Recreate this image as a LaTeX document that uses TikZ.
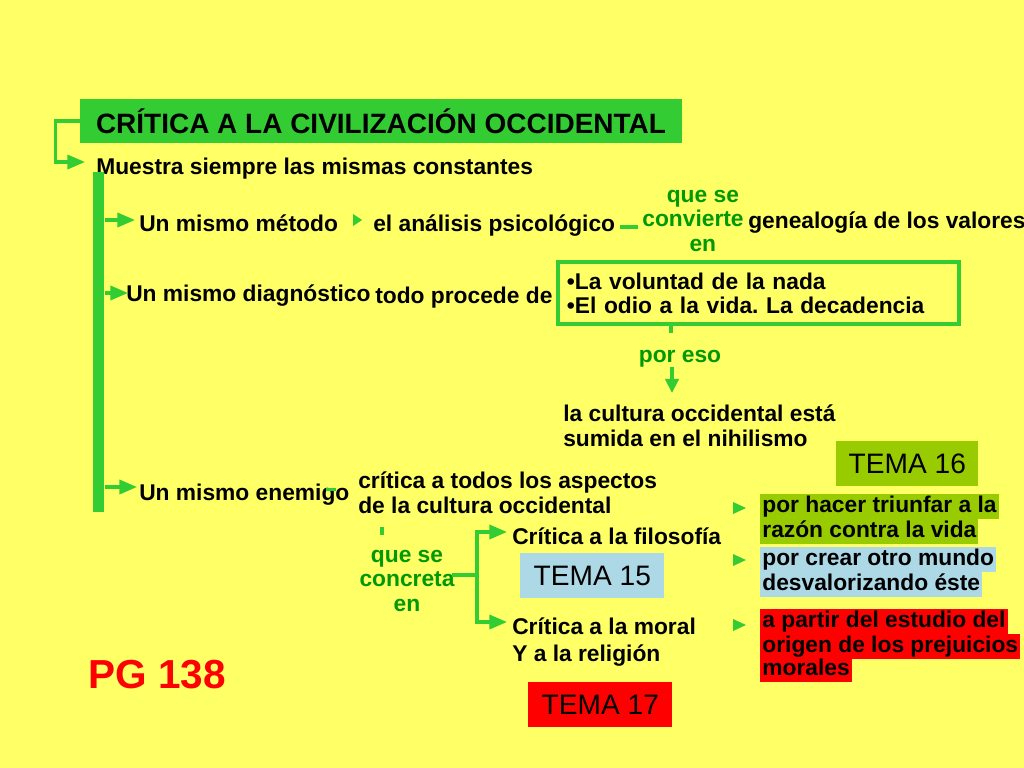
\documentclass[tikz,border=0pt]{standalone}
\usepackage{fontspec}
\setmainfont{Liberation Sans}
\usetikzlibrary{arrows.meta,calc}
\definecolor{bgy}{RGB}{255,255,102}
\definecolor{lgreen}{RGB}{51,204,51}
\definecolor{dkgreen}{RGB}{0,153,0}
\definecolor{olive}{RGB}{153,204,0}
\definecolor{lblue}{RGB}{173,216,230}
\definecolor{tred}{RGB}{255,0,0}
\frenchspacing
\tikzset{
  txt/.style={font=\bfseries\fontsize{16.2}{17.1}\selectfont, inner sep=0pt, anchor=base west, align=left},
  gtxt/.style={txt, text=dkgreen, anchor=base, align=center},
  gline/.style={draw=lgreen, line width=2.3pt},
  garr/.style={gline, -{Triangle[length=12.5pt,width=10pt]}},
  titlebox/.style={fill=lgreen, minimum width=15.05cm, minimum height=1.1cm, inner sep=0pt,
    font=\bfseries\fontsize{19.9}{22}\selectfont},
  barbox/.style={fill=lgreen, minimum width=0.28cm, minimum height=8.5cm, inner sep=0pt, anchor=north west},
  listbox/.style={draw=lgreen, line width=2.8pt, anchor=north west, minimum width=10.025cm, minimum height=1.55cm,
    text width=9.575cm, inner xsep=0.225cm, inner ysep=0pt, align=left, font=\bfseries\fontsize{16.2}{17.1}\selectfont},
  tema/.style={anchor=north west, inner sep=0pt, minimum width=3.6cm, minimum height=1.115cm,
    font=\fontsize{20}{24}\selectfont},
  hl/.style={txt, inner xsep=1.5pt, inner ysep=0pt, text height=12.7pt, text depth=4.8pt},
  pgtxt/.style={font=\bfseries\fontsize{28.8}{32}\selectfont, text=tred, inner sep=0pt, anchor=base west},
  bullet/.style={fill=lgreen}
}
\begin{document}
\begin{tikzpicture}[x=0.025cm,y=-0.025cm]
\fill[bgy] (0,0) rectangle (1024,768);
\useasboundingbox (0,0) rectangle (1024,768);

% title and first level
\node[titlebox] (title) at (381,121) {CRÍTICA A LA CIVILIZACIÓN OCCIDENTAL};
\node[txt] (muestra) at (96,174) {Muestra siempre las mismas constantes};
\coordinate (mqIn) at (85,162);
\draw[garr] (title.west) -- ++(-24,0) |- (mqIn);

\node[barbox] (bar) at (93,172) {};

% Un mismo método
\node[txt] (metodo) at (139,231) {Un mismo método};
\coordinate (a1) at (135,220);
\draw[garr] (bar.east |- a1) -- (a1);
\fill[bullet] (353,214) -- (362,220) -- (353,226) -- cycle;
\node[txt] (analisis) at (373,231) {el análisis psicológico};
\node[gtxt] (convierte) at (693,251) {\hspace*{14pt}que se\\convierte\\\hspace*{14pt}en};
\node[txt] (genea) at (748,228) {genealogía de los valores};
\draw[gline] ($(analisis.east)+(5,2)$) -- ++(18,0);

% Un mismo diagnóstico
\node[txt] (diag) at (126,301) {Un mismo diagnóstico};
\coordinate (a2) at (128,293);
\draw[garr] (bar.east |- a2) -- (a2);
\node[txt] (todo) at (375,303) {todo procede de};
\node[listbox] (vol) at (556,260) {•La voluntad de la nada\\•El odio a la vida. La decadencia};
\coordinate (t1) at (671,333);
\draw[gline] (vol.south -| t1) -- (t1);
\node[gtxt] (poreso) at (680,362) {por eso};
\coordinate (t3) at (672,393);
\draw[gline, -{Triangle[length=10pt,width=9.5pt]}] (poreso.south -| t3) -- (t3);
\node[txt] (cultura) at (563,446) {la cultura occidental está\\sumida en el nihilismo};

\node[tema, fill=olive, minimum width=3.55cm] (t16) at (836,441) {TEMA 16};

% Un mismo enemigo
\node[txt] (enemigo) at (139,500) {Un mismo enemigo};
\coordinate (a3) at (137,487);
\draw[garr] (bar.east |- a3) -- (a3);
\draw[gline] ($(enemigo.east)+(-24,-5)$) -- ++(10,0);
\node[txt] (todos) at (358,513) {crítica a todos los aspectos\\de la cultura occidental};
\coordinate (c1) at (382,527);
\draw[gline] (c1) -- ++(0,8);
\node[gtxt] (concreta) at (407,611) {que se\\concreta\\en};
\coordinate (brk) at (477,575);
\draw[gline] ($(concreta.east |- brk)+(-3,0)$) -- (brk);
\coordinate (b1) at (507,532);
\coordinate (b2) at (507,622);
\draw[garr] (brk) |- (b1);
\draw[garr] (brk) |- (b2);
\node[txt] (filo) at (512,544) {Crítica a la filosofía};
\node[tema, fill=lblue] (t15) at (520,553) {TEMA 15};
\node[txt] (moral) at (512,661) {Crítica a la moral\\[2.1pt]Y a la religión};
\node[tema, fill=tred] (t17) at (528,682) {TEMA 17};

\node[pgtxt] (pg) at (88,688) {PG 138};

% right column
\fill[bullet] (733,502) -- (746,508) -- (733,514) -- cycle;
\fill[bullet] (733,554) -- (746,560) -- (733,566) -- cycle;
\fill[bullet] (733,619) -- (746,625) -- (733,631) -- cycle;
\node[hl, fill=olive] (h1a) at (760,512) {por hacer triunfar a la};
\node[hl, fill=olive] (h1b) at (760,537) {razón contra la vida};
\node[hl, fill=lblue] (h2a) at (760,565) {por crear otro mundo};
\node[hl, fill=lblue] (h2b) at (760,590) {desvalorizando éste};
\node[hl, fill=tred] (h3a) at (760,627) {a partir del estudio del};
\node[hl, fill=tred] (h3b) at (760,652) {origen de los prejuicios};
\node[hl, fill=tred] (h3c) at (760,675) {morales};
\end{tikzpicture}
\end{document}
